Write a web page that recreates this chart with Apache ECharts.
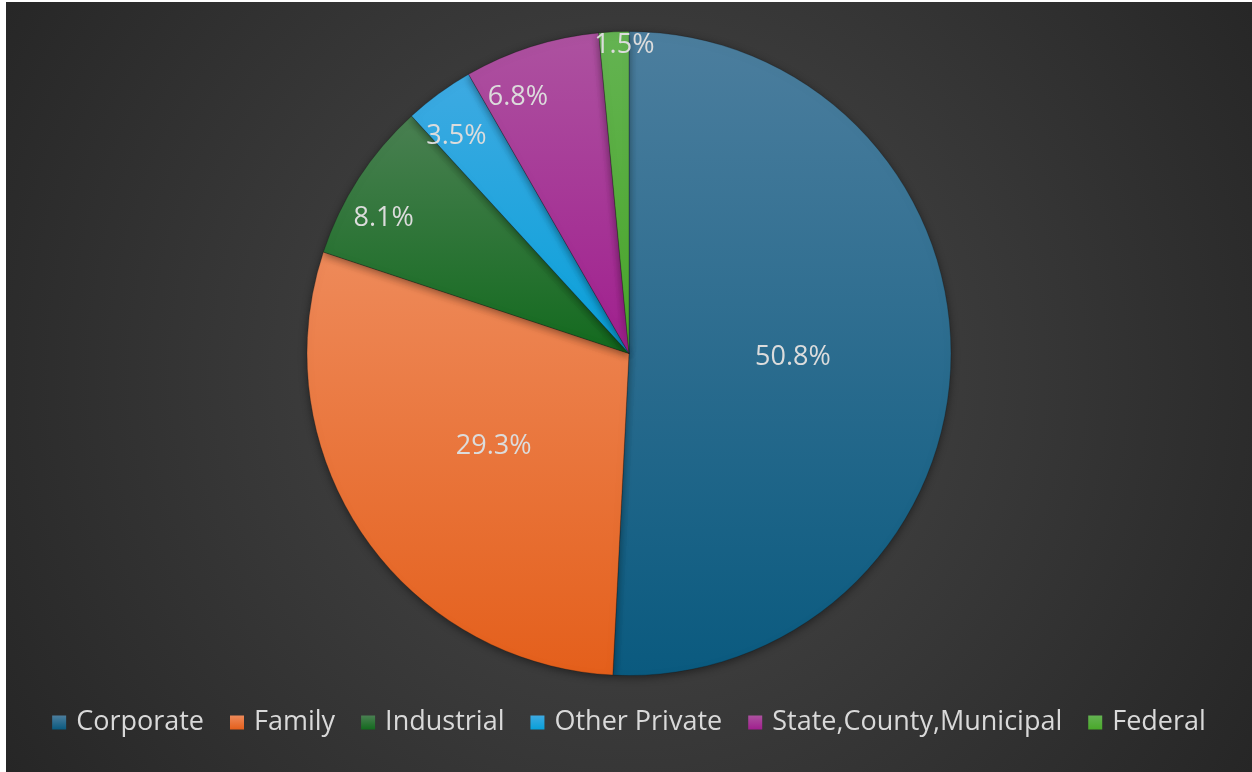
<!DOCTYPE html>
<html>
<head>
<meta charset="utf-8">
<script src="https://cdn.jsdelivr.net/npm/echarts@6/dist/echarts.min.js"></script>
<style>
  html, body { margin: 0; padding: 0; background: #ffffff; }
  #chart {
    position: absolute; left: 6px; top: 2px; width: 1246px; height: 770px;
    background: radial-gradient(circle farthest-corner at 50% 48%, #4c4c4c 0%, #3a3a3a 45%, #262626 100%);
  }
</style>
</head>
<body>
<div id="chart"></div>
<script>
// data
var categories = ['Corporate', 'Family', 'Industrial', 'Other Private', 'State,County,Municipal', 'Federal'];
var shares = [50.8, 29.3, 8.1, 3.5, 6.8, 1.5];
// top / bottom colours of each slice gradient
var topColors = ['#4c7e9e', '#ee8a5a', '#4a8052', '#3eaae2', '#ad52a0', '#64b352'];
var bottomColors = ['#0a5a7f', '#e45f1b', '#136a1e', '#08a0d9', '#a01f8e', '#49a82a'];
// which slices carry the label near the rim
var innerLabels = ['Corporate', 'Family'];
var rimLabels = ['Industrial', 'Other Private', 'State,County,Municipal'];
var edgeLabels = ['Federal'];
// small nudges so the rim labels sit where the original placed them
var labelNudge = {
  'Industrial': [-7, 19],
  'Other Private': [-5, 12],
  'State,County,Municipal': [-25, 14],
  'Federal': [10, 3]
};

var labelFont = { color: '#dcdcdc', fontSize: 27, fontFamily: 'Open Sans' };

function grad(i) {
  return new echarts.graphic.LinearGradient(0, 0, 0, 1, [
    { offset: 0, color: topColors[i] },
    { offset: 1, color: bottomColors[i] }
  ]);
}

var mainData = categories.map(function (c, i) {
  return {
    name: c, value: shares[i],
    itemStyle: { color: grad(i) },
    label: { show: innerLabels.indexOf(c) >= 0 }
  };
});

function labelData(list) {
  return categories.map(function (c, i) {
    return {
      name: c, value: shares[i],
      label: { show: list.indexOf(c) >= 0, offset: labelNudge[c] || [0, 0] }
    };
  });
}

var center = [623, 351.5];
var myChart = echarts.init(document.getElementById('chart'));
var option = {
  backgroundColor: 'transparent',
  animation: false,
  legend: {
    data: categories,
    bottom: 31,
    left: 'center',
    icon: 'rect',
    itemWidth: 14,
    itemHeight: 14,
    itemGap: 26,
    itemStyle: { borderWidth: 0, shadowBlur: 0 },
    textStyle: { color: '#d9d9d9', fontSize: 27, fontFamily: 'Open Sans', padding: [0, 0, 0, 5] }
  },
  series: [{
    type: 'pie',
    center: center,
    radius: [0, 322],
    startAngle: 90,
    clockwise: true,
    label: Object.assign({ position: 'inside', formatter: '{d}%' }, labelFont),
    labelLine: { show: false },
    itemStyle: {
      borderColor: 'rgba(20,20,20,0.35)',
      borderWidth: 0.8,
      shadowBlur: 8,
      shadowColor: 'rgba(0,0,0,0.45)',
      shadowOffsetY: 2
    },
    emphasis: { disabled: true },
    data: mainData
  }, {
    // transparent pie only to hold labels near the rim
    type: 'pie',
    silent: true,
    center: center,
    radius: [0, 562],
    startAngle: 90,
    clockwise: true,
    itemStyle: { color: 'transparent' },
    label: Object.assign({ position: 'inside', formatter: '{c}%' }, labelFont),
    labelLine: { show: false },
    emphasis: { disabled: true },
    data: labelData(rimLabels)
  }, {
    type: 'pie',
    silent: true,
    center: center,
    radius: [0, 618],
    startAngle: 90,
    clockwise: true,
    itemStyle: { color: 'transparent' },
    label: Object.assign({ position: 'inside', formatter: '{c}%' }, labelFont),
    labelLine: { show: false },
    emphasis: { disabled: true },
    data: labelData(edgeLabels)
  }]
};
myChart.setOption(option);
</script>
</body>
</html>
